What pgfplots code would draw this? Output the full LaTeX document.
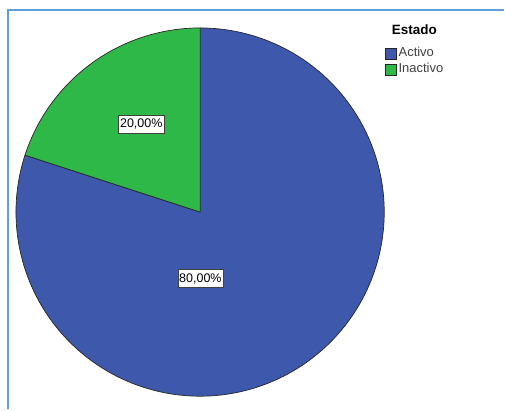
\documentclass[border=0pt]{standalone}
\usepackage{pgfplots}
\usepackage{pgfplotstable}
\usepackage{fontspec}
\setmainfont{Liberation Sans}
\pgfplotsset{compat=1.18}
\definecolor{spssblue}{RGB}{62,88,172}
\definecolor{spssgreen}{RGB}{46,184,72}
\definecolor{framecol}{RGB}{96,160,216}

\pgfplotstableread{
estado valor
Activo 80
Inactivo 20
}\piedata

\begin{document}
\begin{tikzpicture}
\pgfplotstablegetelem{0}{valor}\of\piedata \let\va\pgfplotsretval
\pgfplotstablegetelem{1}{valor}\of\piedata \let\vb\pgfplotsretval
\pgfmathsetmacro{\tot}{\va+\vb}
\pgfmathsetmacro{\fa}{\va/\tot}
\pgfmathsetmacro{\fb}{\vb/\tot}
\pgfmathsetmacro{\aend}{90-360*\fa}
\pgfmathsetmacro{\bend}{90+360*\fb}
\begin{axis}[
  width=505pt, height=410pt, scale only axis,
  xmin=0, xmax=505, ymin=0, ymax=410,
  hide axis, clip=false,
  area legend,
  legend image code/.code={\draw[#1] (0pt,-5.5pt) rectangle (11pt,5.5pt);},
  legend style={at={(axis cs:386,364)}, anchor=north west, draw=none, fill=none,
    inner sep=0pt, row sep=1pt,
    font=\fontsize{13}{15}\selectfont, text=black!75,
    nodes={inner sep=1.5pt, text height=9pt, text depth=3pt},
    cells={anchor=west}},
]
\path (axis cs:0,0) rectangle (axis cs:505,410);
\addplot[fill=spssblue, draw=black!85, line width=0.7pt, domain=90:\aend, samples=240, variable=\t]
  ({200.5+184.5*cos(\t)},{197.5+184.5*sin(\t)}) -- (axis cs:200.5,197.5) -- cycle;
\addplot[fill=spssgreen, draw=black!85, line width=0.7pt, domain=90:\bend, samples=80, variable=\t]
  ({200.5+184.5*cos(\t)},{197.5+184.5*sin(\t)}) -- (axis cs:200.5,197.5) -- cycle;
\legend{Activo,Inactivo}
\tikzset{lbl/.style={draw=black!75, fill=white, inner xsep=1.5pt, inner ysep=4pt, text height=9pt, text depth=1pt, font=\fontsize{12.5}{14}\selectfont}}
\node[lbl] at (axis cs:200.8,130.8) {80,00\%};
\node[lbl] at (axis cs:141.5,286) {20,00\%};
\node[anchor=west, inner sep=0pt, font=\bfseries\fontsize{13.5}{15}\selectfont] at (axis cs:392.5,380.5) {Estado};
\draw[framecol, line width=2pt] (axis cs:8.5,0) -- (axis cs:8.5,400) -- (axis cs:505,400);
\end{axis}
\end{tikzpicture}
\end{document}
